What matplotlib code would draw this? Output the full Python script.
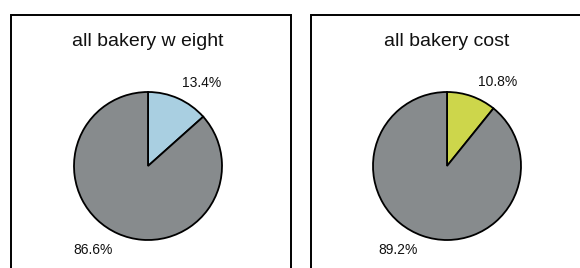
import matplotlib

matplotlib.use("Agg", force=True)
import matplotlib.pyplot as plt
from matplotlib.patches import Rectangle

plt.rcParams["font.family"] = ["Liberation Sans", "DejaVu Sans"]

titles = ["all bakery w eight", "all bakery cost"]
shares = [[13.4, 86.6], [10.8, 89.2]]
label_texts = [["13.4%", "86.6%"], ["10.8%", "89.2%"]]
slice_colors = [["#a9cfe1", "#878b8d"], ["#cdd64b", "#878b8d"]]

W, H = 580, 268
fig = plt.figure(figsize=(W / 100, H / 100), dpi=100)

# panel boxes (pixels from top-left): left, top, right
boxes = [(11, 15, 291), (311, 15, 600)]
pie_centers = [(148, 166), (447, 166)]
radius = 74
# label offsets in radius units relative to pie centre
label_offsets = [[(0.73, 1.12), (-0.74, -1.14)], [(0.69, 1.135), (-0.66, -1.135)]]

for i in range(2):
    x0, y0, x1 = boxes[i]
    fig.patches.append(
        Rectangle((x0 / W, -0.2), (x1 - x0) / W, 1.2 - y0 / H,
                  transform=fig.transFigure, fill=False,
                  edgecolor="black", linewidth=1.4, clip_on=False)
    )
    cx, cy = pie_centers[i]
    ax = fig.add_axes([(cx - radius) / W, (H - cy - radius) / H,
                       2 * radius / W, 2 * radius / H])
    ax.pie(shares[i], colors=slice_colors[i], startangle=90, counterclock=False,
           wedgeprops=dict(edgecolor="black", linewidth=1.3))
    ax.set_xlim(-1, 1)
    ax.set_ylim(-1, 1)
    ax.set_aspect("equal")
    for txt, (dx, dy) in zip(label_texts[i], label_offsets[i]):
        ax.text(dx, dy, txt, ha="center", va="center", fontsize=10, color="#111111")
    fig.text(cx / W, 1 - 42 / H, titles[i], ha="center", va="center",
             fontsize=14, color="#111111")

fig.savefig("out.png", dpi=100)
